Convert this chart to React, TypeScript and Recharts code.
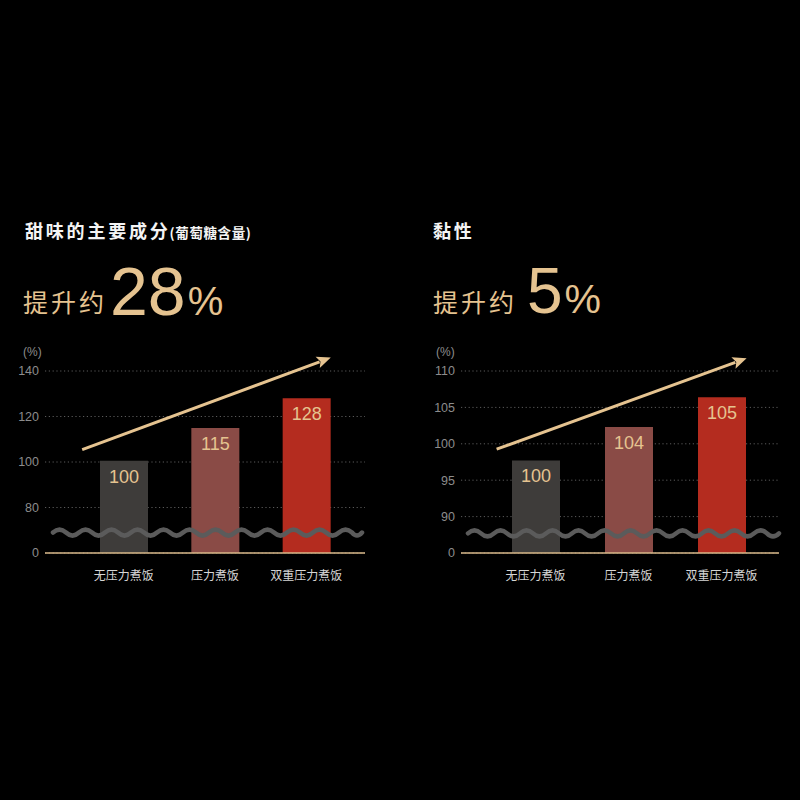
import React from 'react';
import { BarChart, Bar, XAxis, YAxis, CartesianGrid, ReferenceLine, LabelList, Cell } from 'recharts';

// ---------- shared ----------
const categories = ['无压力煮饭', '压力煮饭', '双重压力煮饭'];
const barColors = ['#3e3c3a', '#8a4b46', '#b42c1f'];

// ---------- chart 1: 甜味 ----------
const sweetValues = [100.5, 115, 128];
const sweetLabels = ['100', '115', '128'];
const sweetTicks = [60, 80, 100, 120, 140];
const sweetTickLabels = ['0', '80', '100', '120', '140'];
const sweetDomain = [60, 140];
// trend arrow: values at first / last category centre, extended before/after
const sweetArrowY = [112.2, 141.9];
const sweetArrowExtend = [-0.227, 1.134];
const sweetBreak = 69;

// ---------- chart 2: 黏性 ----------
const stickyValues = [97.7, 102.3, 106.4];
const stickyLabels = ['100', '104', '105'];
const stickyTicks = [85, 90, 95, 100, 105, 110];
const stickyTickLabels = ['0', '90', '95', '100', '105', '110'];
const stickyDomain = [85, 110];
const stickyArrowY = [101.2, 110.5];
const stickyArrowExtend = [-0.209, 1.135];
const stickyBreak = 87.7;

const GOLD = '#e5c390';
const NUM_FONT = '"Liberation Sans", Arial, sans-serif';
const CJK_FONT = '"Noto Sans CJK SC", "Noto Sans", sans-serif';

const WaveShape = (insetL: number, insetR: number) => (props: any) => {
  const { x1, x2, y1 } = props;
  if (x1 == null || y1 == null) return null;
  const start = Math.min(x1, x2) + insetL;
  const end = Math.max(x1, x2) - insetR;
  const wl = 26;
  const amp = 3;
  let d = `M${start},${y1}`;
  let x = start;
  let up = true;
  while (x < end) {
    const nx = Math.min(x + wl / 2, end);
    const cx = (x + nx) / 2;
    d += ` Q${cx},${y1 + (up ? -amp * 2 : amp * 2)} ${nx},${y1}`;
    up = !up;
    x = nx;
  }
  return <path d={d} stroke="#5b5b5b" strokeWidth={4.5} fill="none" strokeLinecap="round" />;
};

const ArrowShape = (t0: number, t1: number) => (props: any) => {
  const { x1: ax, y1: ay, x2: bx0, y2: by0 } = props;
  if (ax == null || ay == null || bx0 == null || by0 == null) return null;
  const x1 = ax + (bx0 - ax) * t0;
  const y1 = ay + (by0 - ay) * t0;
  const x2 = ax + (bx0 - ax) * t1;
  const y2 = ay + (by0 - ay) * t1;
  const ang = Math.atan2(y2 - y1, x2 - x1);
  const len = 14;
  const half = 6;
  const bx = x2 - len * Math.cos(ang);
  const by = y2 - len * Math.sin(ang);
  const lx = bx + half * Math.sin(ang);
  const ly = by - half * Math.cos(ang);
  const rx = bx - half * Math.sin(ang);
  const ry = by + half * Math.cos(ang);
  return (
    <g>
      <line x1={x1} y1={y1} x2={bx + 2 * Math.cos(ang)} y2={by + 2 * Math.sin(ang)} stroke={GOLD} strokeWidth={3} />
      <path d={`M${x2},${y2} L${lx},${ly} L${bx + 3 * Math.cos(ang)},${by + 3 * Math.sin(ang)} L${rx},${ry} Z`} fill={GOLD} />
    </g>
  );
};

type PanelProps = {
  values: number[];
  labels: string[];
  ticks: number[];
  tickLabels: string[];
  domain: number[];
  arrowY: number[];
  arrowExtend: number[];
  breakAt: number;
  marginLeft: number;
  marginRight: number;
  padLeft: number;
  padRight: number;
  waveInsetL: number;
  waveInsetR: number;
  unitDx: number;
};

const Panel = (p: PanelProps) => {
  const data = categories.map((name, i) => ({ name, value: p.values[i], label: p.labels[i] }));
  const fmt = (v: number) => {
    const i = p.ticks.indexOf(v);
    return i >= 0 ? p.tickLabels[i] : String(v);
  };
  return (
    <BarChart
      width={400}
      height={260}
      data={data}
      margin={{ top: 31, right: p.marginRight, bottom: 17, left: p.marginLeft }}
      barSize={48}
    >
      <CartesianGrid vertical={false} stroke="#5a5a5a" strokeDasharray="1.2 2.6" />
      <XAxis
        dataKey="name"
        padding={{ left: p.padLeft, right: p.padRight }}
        axisLine={{ stroke: '#d9b88a', strokeWidth: 1.6 }}
        tickLine={false}
        tickSize={0}
        tickMargin={18}
        height={30}
        interval={0}
        tick={{ fill: '#d6d6d6', fontSize: 12, fontFamily: CJK_FONT }}
      />
      <YAxis
        type="number"
        domain={p.domain}
        ticks={p.ticks}
        allowDataOverflow
        width={40}
        axisLine={false}
        tickLine={false}
        tickSize={0}
        tickMargin={6}
        tickFormatter={fmt}
        tick={{ fill: '#8c8c8c', fontSize: 12.5, fontFamily: NUM_FONT }}
        label={{ value: '(%)', position: 'insideTopLeft', dx: p.unitDx, dy: -29, fill: '#8c8c8c', fontSize: 12, fontFamily: NUM_FONT }}
      />
      <Bar dataKey="value" isAnimationActive={false}>
        {data.map((_, i) => (
          <Cell key={i} fill={barColors[i]} />
        ))}
        <LabelList dataKey="label" position="insideTop" offset={9} fill={GOLD} fontSize={18} fontFamily={NUM_FONT} />
      </Bar>
      <ReferenceLine y={p.breakAt} ifOverflow="visible" shape={WaveShape(p.waveInsetL, p.waveInsetR)} />
      <ReferenceLine
        segment={[
          { x: categories[0], y: p.arrowY[0] },
          { x: categories[categories.length - 1], y: p.arrowY[1] },
        ]}
        ifOverflow="visible"
        shape={ArrowShape(p.arrowExtend[0], p.arrowExtend[1])}
      />
    </BarChart>
  );
};

export default function App() {
  return (
    <div style={{ position: 'fixed', left: 0, top: 0, width: 800, height: 800, background: '#000', overflow: 'hidden' }}>
      <svg width={800} height={800} style={{ position: 'absolute', left: 0, top: 0 }}>
        <text x={25} y={238} fill="#f4f4f4" fontSize={18} fontWeight={700} fontFamily={CJK_FONT} letterSpacing={2.8}>
          甜味的主要成分
          <tspan fontSize={13.5} letterSpacing={0.6} dx={-1}>(葡萄糖含量)</tspan>
        </text>
        <text x={23} y={312} fill={GOLD} fontSize={25} fontFamily={CJK_FONT} letterSpacing={3}>
          提升约
        </text>
        <text x={110} y={315} fill={GOLD} fontFamily={NUM_FONT}>
          <tspan fontSize={68}>28</tspan>
          <tspan fontSize={40} dx={2}>%</tspan>
        </text>

        <text x={433} y={238} fill="#f4f4f4" fontSize={18} fontWeight={700} fontFamily={CJK_FONT} letterSpacing={2.8}>
          黏性
        </text>
        <text x={433} y={312} fill={GOLD} fontSize={25} fontFamily={CJK_FONT} letterSpacing={3}>
          提升约
        </text>
        <text x={527} y={313} fill={GOLD} fontFamily={NUM_FONT}>
          <tspan fontSize={64}>5</tspan>
          <tspan fontSize={41} dx={2}>%</tspan>
        </text>
      </svg>
      <div style={{ position: 'absolute', left: 0, top: 340 }}>
        <Panel
          values={sweetValues}
          labels={sweetLabels}
          ticks={sweetTicks}
          tickLabels={sweetTickLabels}
          domain={sweetDomain}
          arrowY={sweetArrowY}
          arrowExtend={sweetArrowExtend}
          breakAt={sweetBreak}
          marginLeft={5}
          marginRight={35}
          padLeft={33}
          padRight={13}
          waveInsetL={8}
          waveInsetR={3}
          unitDx={13}
        />
      </div>
      <div style={{ position: 'absolute', left: 400, top: 340 }}>
        <Panel
          values={stickyValues}
          labels={stickyLabels}
          ticks={stickyTicks}
          tickLabels={stickyTickLabels}
          domain={stickyDomain}
          arrowY={stickyArrowY}
          arrowExtend={stickyArrowExtend}
          breakAt={stickyBreak}
          marginLeft={21}
          marginRight={21}
          padLeft={28}
          padRight={11}
          waveInsetL={7}
          waveInsetR={0}
          unitDx={10}
        />
      </div>
    </div>
  );
}
